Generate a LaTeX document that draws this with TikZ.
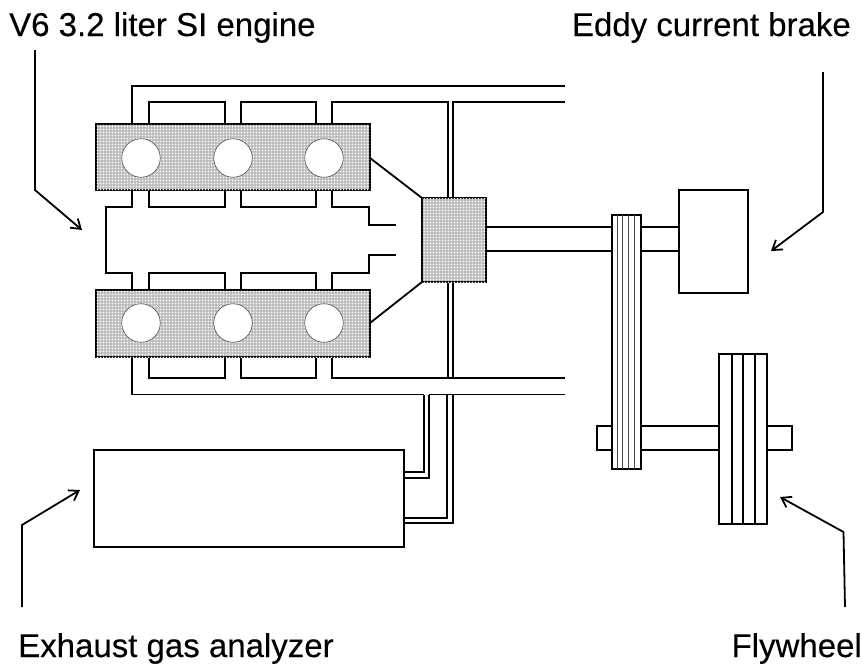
\documentclass[tikz,border=0pt]{standalone}
\usepackage{fontspec}
\setmainfont[FakeBold=0.25]{Liberation Sans}
\usetikzlibrary{patterns,arrows.meta}
\pgfdeclarepatternformonly{finedots}{\pgfqpoint{-1pt}{-1pt}}{\pgfqpoint{4pt}{4pt}}{\pgfqpoint{3pt}{3pt}}{%
  \pgfpathcircle{\pgfqpoint{1.5pt}{1.5pt}}{0.85pt}\pgfusepath{fill}}
\tikzset{
  ln/.style={draw=black,line width=1.8pt,line join=miter},
  dotted block/.style={ln,fill=gray!52,postaction={pattern=finedots,pattern color=white}},
  bore/.style={draw=black!70,line width=0.6pt,fill=white,circle,minimum size=38.5pt,inner sep=0pt},
  plain block/.style={ln,fill=white},
  rib/.style={draw=black!70,line width=1pt},
  pointer/.style={draw=black,line width=1.8pt,-{Straight Barb[length=9pt,width=12pt,line width=1.8pt]}},
  lbl/.style={font=\fontsize{33}{36}\selectfont,inner sep=0pt,text=black}
}
\begin{document}
\begin{tikzpicture}[x=1pt,y=-1pt]
\useasboundingbox (0,0) rectangle (863,665);
% engine plumbing
\draw[ln] (132,124) -- (132,86) -- (565,86);
\draw[ln] (149,124) -- (149,102) -- (225,102) -- (225,124);
\draw[ln] (241,124) -- (241,102) -- (316,102) -- (316,124);
\draw[ln] (332,124) -- (332,102) -- (448,102) -- (448,198);
\draw[ln] (453,198) -- (453,102) -- (565,102);
\draw[ln] (132,190) -- (132,207) -- (106,207) -- (106,273) -- (132,273) -- (132,290);
\draw[ln] (149,190) -- (149,207) -- (225,207) -- (225,190);
\draw[ln] (241,190) -- (241,207) -- (316,207) -- (316,190);
\draw[ln] (332,190) -- (332,207) -- (369,207) -- (369,225) -- (396,225);
\draw[ln] (149,290) -- (149,273) -- (225,273) -- (225,290);
\draw[ln] (241,290) -- (241,273) -- (316,273) -- (316,290);
\draw[ln] (332,290) -- (332,273) -- (369,273) -- (369,255) -- (396,255);
\draw[ln] (149,357) -- (149,378) -- (225,378) -- (225,357);
\draw[ln] (241,357) -- (241,378) -- (316,378) -- (316,357);
\draw[ln] (332,357) -- (332,378) -- (565,378);
\draw[ln] (132,357) -- (132,394.5) -- (424,394.5);
\draw[ln] (429,394.5) -- (565,394.5);
\draw[ln] (448,282) -- (448,378);
\draw[ln] (453,282) -- (453,378);
% analyzer tubes
\draw[ln] (404,472) -- (424,472) -- (424,394.5);
\draw[ln] (404,478) -- (429,478) -- (429,394.5);
\draw[ln] (404,518) -- (447,518) -- (447,394.5);
\draw[ln] (404,523) -- (453,523) -- (453,394.5);
% engine blocks
\draw[dotted block] (96,124) rectangle (370,190);
\draw[dotted block] (96,290) rectangle (370,357);
\node[bore] (c1) at (141,158) {};
\node[bore] (c2) at (233,158) {};
\node[bore] (c3) at (324,158) {};
\node[bore] (c4) at (141,323) {};
\node[bore] (c5) at (233,323) {};
\node[bore] (c6) at (324,323) {};
% gearbox
\draw[dotted block] (422,198) rectangle (486,282);
\draw[ln] (370,158) -- (422,198);
\draw[ln] (370,323) -- (422,282);
% shafts
\draw[ln] (486,227) -- (612,227) (486,251) -- (612,251);
\draw[ln] (641,227) -- (679,227) (641,251) -- (679,251);
\draw[plain block] (679,190) rectangle (748,293);
\draw[plain block] (597,426) rectangle (792,450);
% pulley
\draw[plain block] (612,215) rectangle (641,469);
\foreach \x in {617,622.5,628,634}{\draw[rib] (\x,215) -- (\x,469);}
% flywheel
\draw[plain block] (719,354) rectangle (767,524);
\foreach \x in {732,743,755}{\draw[ln] (\x,354) -- (\x,524);}
% analyzer
\draw[plain block] (94,450) rectangle (404,547);
% labels
\node[lbl,anchor=base west] (t1) at (9,36) {V6 3.2 liter SI engine};
\node[lbl,anchor=base east] (t2) at (851,36) {Eddy current brake};
\node[lbl,anchor=base west] (t3) at (18,657) {Exhaust gas analyzer};
\node[lbl,anchor=base east] (t4) at (862,657) {Flywheel};
% pointers
\coordinate (p1s) at (35,50); \coordinate (p1m) at (35,190); \coordinate (p1e) at (82,230);
\coordinate (p2s) at (823,72); \coordinate (p2m) at (823,212); \coordinate (p2e) at (771,251);
\coordinate (p3s) at (22,607); \coordinate (p3m) at (22,525); \coordinate (p3e) at (80,490);
\coordinate (p4s) at (845,607); \coordinate (p4m) at (843.5,532); \coordinate (p4e) at (780,497);
\draw[pointer] (p1s) -- (p1m) -- (p1e);
\draw[pointer] (p2s) -- (p2m) -- (p2e);
\draw[pointer] (p3s) -- (p3m) -- (p3e);
\draw[pointer] (p4s) -- (p4m) -- (p4e);
\end{tikzpicture}
\end{document}
